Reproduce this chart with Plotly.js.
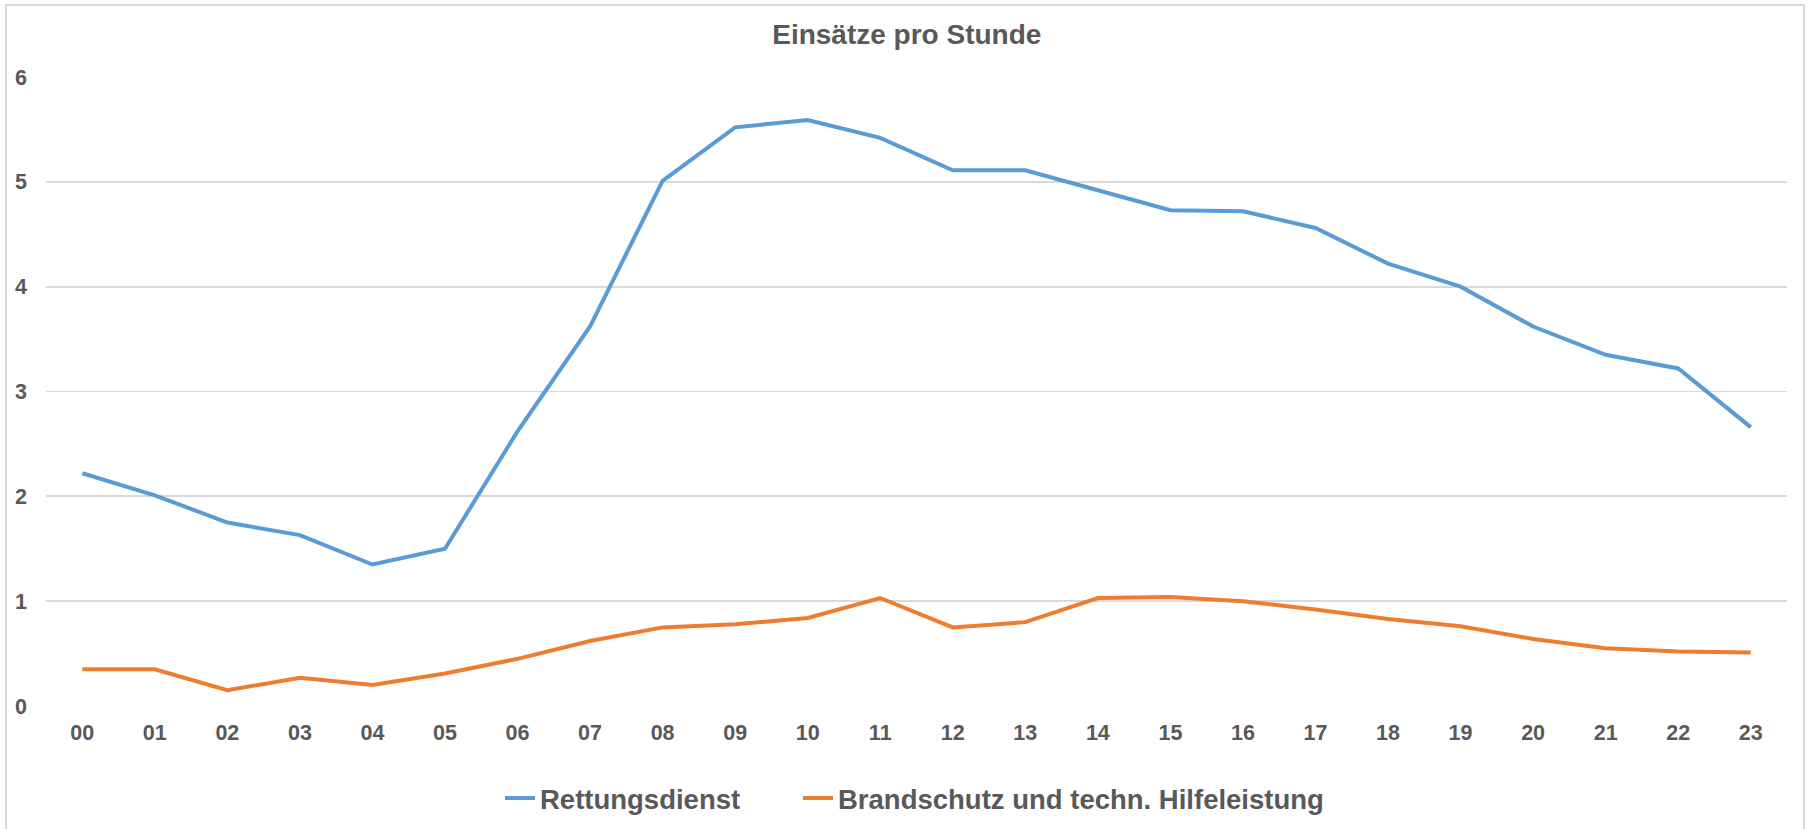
<!DOCTYPE html>
<html>
<head>
<meta charset="utf-8">
<script src="https://cdn.plot.ly/plotly-3.0.1.min.js"></script>
<style>
  html, body { margin: 0; padding: 0; background: #ffffff; overflow: hidden; }
  #frame { position: absolute; left: 5px; top: 4px; width: 1800px; height: 840px;
           border: 2px solid #d9d9d9; box-sizing: border-box; }
  #chart { position: absolute; left: 0; top: 0; width: 1810px; height: 829px; }
</style>
</head>
<body>
<div id="frame"></div>
<div id="chart"></div>
<script>
const hours = ["00","01","02","03","04","05","06","07","08","09","10","11",
               "12","13","14","15","16","17","18","19","20","21","22","23"];
const rettungsdienst = [2.22, 2.01, 1.75, 1.63, 1.35, 1.50, 2.62, 3.62, 5.01, 5.52, 5.59, 5.42,
                        5.11, 5.11, 4.92, 4.73, 4.72, 4.56, 4.22, 4.00, 3.62, 3.35, 3.22, 2.66];
const brandschutz = [0.35, 0.35, 0.15, 0.27, 0.20, 0.31, 0.45, 0.62, 0.75, 0.78, 0.84, 1.03,
                     0.75, 0.80, 1.03, 1.04, 1.00, 0.92, 0.83, 0.76, 0.64, 0.55, 0.52, 0.51];
const seriesNames = ["Rettungsdienst", "Brandschutz und techn. Hilfeleistung"];
const chartTitle = "Einsätze pro Stunde";
const yTicks = [0, 1, 2, 3, 4, 5, 6];

const fontFam = "Liberation Sans, Arial, sans-serif";
const txtCol = "#595959";

const traces = [
  { x: hours, y: rettungsdienst, name: seriesNames[0], type: "scatter", mode: "lines",
    legend: "legend", line: { color: "#5B9BD5", width: 4 } },
  { x: hours, y: brandschutz, name: seriesNames[1], type: "scatter", mode: "lines",
    legend: "legend2", line: { color: "#ED7D31", width: 4 } }
];

const legFont = { family: fontFam, size: 27.5, color: txtCol, weight: "bold" };
const legY = 1 - 798/829;

const layout = {
  width: 1810, height: 829,
  paper_bgcolor: "rgba(0,0,0,0)", plot_bgcolor: "rgba(0,0,0,0)",
  margin: { l: 46, r: 23, t: 77, b: 123, pad: 0 },
  title: { text: chartTitle, x: 0.501, xanchor: "center", y: 1 - 34.5/829, yanchor: "middle",
           yref: "container",
           font: { family: fontFam, size: 28, color: txtCol, weight: "bold" } },
  xaxis: { type: "category", range: [-0.5, 23.5], showgrid: false, zeroline: false,
           showline: false, ticks: "", ticklabelstandoff: 11,
           tickfont: { family: fontFam, size: 21.5, color: txtCol, weight: "bold" } },
  yaxis: { range: [0, 6], tickvals: yTicks, showgrid: true, gridcolor: "#d9d9d9", gridwidth: 1.8,
           zeroline: false, showline: false, ticks: "", ticklabelstandoff: 18,
           tickfont: { family: fontFam, size: 21.5, color: txtCol, weight: "bold" } },
  showlegend: true,
  legend: { orientation: "h", x: (540 - 40) / 1810, xanchor: "left", xref: "container",
            y: legY, yanchor: "middle", yref: "container",
            font: legFont, bgcolor: "rgba(0,0,0,0)" },
  legend2: { orientation: "h", x: (838 - 40) / 1810, xanchor: "left", xref: "container",
             y: legY, yanchor: "middle", yref: "container",
             font: legFont, bgcolor: "rgba(0,0,0,0)" }
};

Plotly.newPlot("chart", traces, layout, { displayModeBar: false, staticPlot: true });
</script>
</body>
</html>
